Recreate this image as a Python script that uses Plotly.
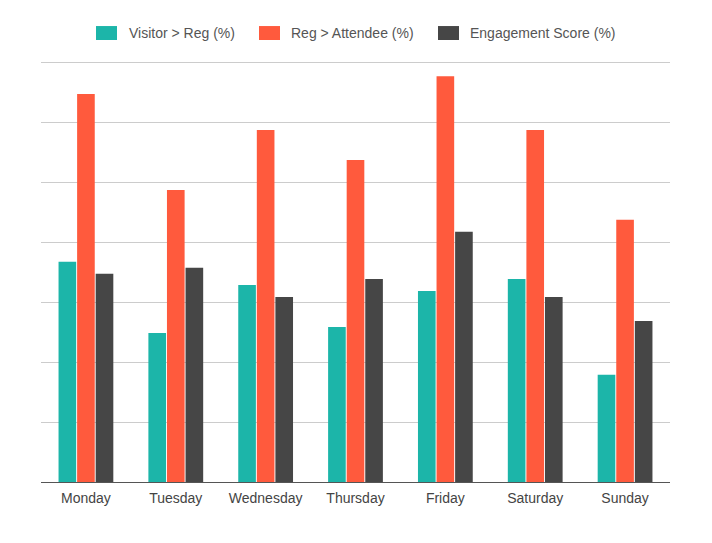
import plotly.graph_objects as go

days = ["Monday", "Tuesday", "Wednesday", "Thursday", "Friday", "Saturday", "Sunday"]
visitor_reg = [36.8, 24.9, 32.9, 25.9, 31.9, 33.9, 17.9]
reg_attendee = [64.8, 48.8, 58.8, 53.8, 67.8, 58.8, 43.8]
engagement = [34.8, 35.8, 30.9, 33.9, 41.8, 30.9, 26.9]

series_names = ["Visitor > Reg (%)", "Reg > Attendee (%)", "Engagement Score (%)"]
series_colors = ["#1cb5a9", "#ff5a3d", "#464646"]
series_values = [visitor_reg, reg_attendee, engagement]

W, H = 712, 543
L, R, T, B = 33, 50, 52, 68.5
pw, ph = W - L - R, H - T - B

def px(x):
    return (x - L) / pw

def py(y):
    return (H - B - y) / ph

fig = go.Figure()
for name, vals, color in zip(series_names, series_values, series_colors):
    fig.add_trace(go.Bar(x=days, y=vals, name=name, showlegend=False,
                         marker=dict(color=color, line=dict(width=0))))

# custom legend (swatches + labels), in figure pixel coords
legend_swatch_x = [88, 251, 430]
legend_text_x = [119, 281, 460]
for sx, tx, name, color in zip(legend_swatch_x, legend_text_x, series_names, series_colors):
    fig.add_shape(type="rect", xref="paper", yref="paper",
                  x0=px(sx), x1=px(sx + 21), y0=py(32), y1=py(18),
                  fillcolor=color, line=dict(width=0))
    fig.add_annotation(xref="paper", yref="paper", x=px(tx), y=py(25),
                       xanchor="left", yanchor="middle", showarrow=False,
                       text=name, font=dict(size=14, color="#555"))

fig.update_layout(
    width=W, height=H,
    margin=dict(l=L, r=R, t=T, b=B, autoexpand=False),
    paper_bgcolor="white", plot_bgcolor="white",
    font=dict(family="Liberation Sans, Arial, sans-serif", size=14, color="#444"),
    barmode="group", bargap=0.38, bargroupgap=0.05,
    showlegend=False,
)
fig.update_xaxes(showline=True, linecolor="#555", linewidth=1, showgrid=False, ticks="",
                 tickfont=dict(size=14, color="#444"), automargin=False,
                 ticklabelstandoff=3)
fig.update_yaxes(range=[0, 70.5], tickvals=[10, 20, 30, 40, 50, 60, 70], showgrid=True,
                 gridcolor="#cccccc", gridwidth=1, automargin=False,
                 showticklabels=False, zeroline=False, ticks="")

fig.write_html("out.html")
